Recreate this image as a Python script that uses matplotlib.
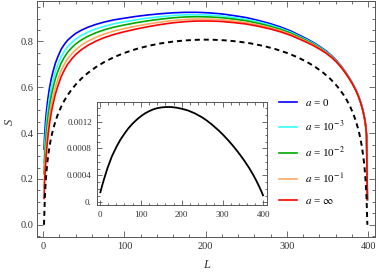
import matplotlib.pyplot as plt
from matplotlib.ticker import MultipleLocator, FuncFormatter

plt.rcParams['font.family'] = ['Liberation Serif', 'DejaVu Serif']
plt.rcParams['mathtext.fontset'] = 'stix'

# subsystem sizes used for the coloured curves
L_col = [1, 2, 3, 4, 5, 6, 8, 10, 12, 15, 18, 22, 26, 30, 35, 40, 47, 55, 65, 75,
         87, 100, 115, 130, 145, 160, 175, 190, 205, 220, 235, 250, 265, 280, 293,
         305, 315, 325, 333, 340, 348, 355, 361, 367, 372, 377, 381, 385, 388, 391,
         393, 395, 396, 397, 398, 399]

S_a0 = [0.33, 0.405, 0.455, 0.495, 0.527, 0.555, 0.602, 0.638, 0.667, 0.705, 0.733,
        0.765, 0.787, 0.805, 0.821, 0.835, 0.849, 0.862, 0.8745, 0.8845, 0.894,
        0.9015, 0.9095, 0.916, 0.921, 0.925, 0.927, 0.927, 0.9245, 0.92, 0.9125,
        0.904, 0.8915, 0.877, 0.862, 0.845, 0.828, 0.81, 0.7945, 0.779, 0.759,
        0.738, 0.717, 0.692, 0.667, 0.64, 0.6155, 0.588, 0.5625, 0.532, 0.5065,
        0.475, 0.456, 0.431, 0.3905, 0.11]
S_a3 = [0.272, 0.351, 0.404, 0.446, 0.481, 0.51, 0.56, 0.598, 0.629, 0.669, 0.698,
        0.733, 0.757, 0.777, 0.795, 0.81, 0.826, 0.8407, 0.8548, 0.8661, 0.8769,
        0.8856, 0.8947, 0.9022, 0.9083, 0.9133, 0.9161, 0.9167, 0.915, 0.911,
        0.904, 0.896, 0.885, 0.871, 0.856, 0.84, 0.823, 0.806, 0.791, 0.776, 0.756,
        0.736, 0.715, 0.69, 0.666, 0.639, 0.615, 0.587, 0.562, 0.5315, 0.506,
        0.475, 0.456, 0.431, 0.39, 0.11]
S_a2 = [0.2225, 0.305, 0.36, 0.405, 0.441, 0.4725, 0.5245, 0.564, 0.596, 0.6375,
        0.669, 0.705, 0.731, 0.7525, 0.772, 0.789, 0.8065, 0.8225, 0.838, 0.8505,
        0.8623, 0.872, 0.882, 0.8905, 0.8975, 0.9033, 0.9068, 0.908, 0.9068, 0.9035,
        0.8973, 0.89, 0.8788, 0.8655, 0.8515, 0.8355, 0.8195, 0.8025, 0.7878,
        0.773, 0.754, 0.734, 0.7135, 0.689, 0.6645, 0.638, 0.6138, 0.5865, 0.5613,
        0.531, 0.5058, 0.4745, 0.4555, 0.4305, 0.3903, 0.11]
S_a1 = [0.1645, 0.251, 0.3087, 0.3564, 0.3946, 0.428, 0.4827, 0.524, 0.5577, 0.601,
        0.6344, 0.6726, 0.7008, 0.7242, 0.7455, 0.7642, 0.7836, 0.8012, 0.8183,
        0.8321, 0.8451, 0.8561, 0.8672, 0.8767, 0.8848, 0.8915, 0.8958, 0.8977,
        0.8972, 0.8946, 0.889, 0.8824, 0.8719, 0.8593, 0.8458, 0.8304, 0.8149,
        0.7985, 0.7841, 0.7698, 0.7513, 0.7318, 0.7116, 0.6874, 0.6632, 0.6369,
        0.6128, 0.5857, 0.5606, 0.5305, 0.5053, 0.4742, 0.4552, 0.4302, 0.3901, 0.11]
S_inf = [0.115, 0.205, 0.265, 0.315, 0.355, 0.39, 0.447, 0.49, 0.525, 0.57, 0.605,
         0.645, 0.675, 0.70, 0.723, 0.743, 0.764, 0.783, 0.8015, 0.8165, 0.8305,
         0.8425, 0.8545, 0.865, 0.874, 0.8815, 0.8865, 0.889, 0.889, 0.887, 0.882,
         0.876, 0.866, 0.854, 0.841, 0.826, 0.811, 0.795, 0.781, 0.767, 0.749, 0.73,
         0.71, 0.686, 0.662, 0.636, 0.612, 0.585, 0.56, 0.53, 0.505, 0.474, 0.455,
         0.43, 0.39, 0.11]

# dashed reference curve
L_dash = [1, 2, 3, 4, 5, 6, 8, 10, 12, 15, 18, 22, 26, 30, 35, 40, 47, 55, 65, 75,
          87, 100, 115, 130, 145, 160, 175, 190, 200, 210, 225, 240, 255, 270, 285,
          300, 313, 325, 335, 345, 353, 360, 365, 370, 374, 378, 382, 385, 388, 390,
          392, 394, 395, 396, 397, 398, 399]
S_dash = [0.0, 0.1155, 0.183, 0.231, 0.268, 0.2986, 0.3464, 0.3836, 0.4139, 0.4509,
          0.4812, 0.5143, 0.5418, 0.5653, 0.5904, 0.612, 0.6379, 0.6626, 0.6884,
          0.7098, 0.7312, 0.75, 0.7675, 0.7812, 0.7917, 0.7994, 0.8045, 0.8072,
          0.8078, 0.8072, 0.8045, 0.7994, 0.7917, 0.7812, 0.7675, 0.75, 0.7312,
          0.7098, 0.6884, 0.6626, 0.6379, 0.612, 0.5904, 0.5653, 0.5418, 0.5143,
          0.4812, 0.4509, 0.4139, 0.3836, 0.3464, 0.2986, 0.268, 0.231, 0.183,
          0.1155, 0.0]

# inset curve
L_ins = [1, 5, 10, 18, 29, 40, 50, 60, 69, 80, 90, 100, 110, 120, 130, 140, 151,
         163, 175, 188, 200, 215, 232, 250, 262, 273, 290, 302, 314, 325, 335, 345,
         355, 365, 375, 383, 390, 395, 399]
S_ins = [1.5e-4, 2.4e-4, 3.45e-4, 5.0e-4, 6.8e-4, 8.2e-4, 9.3e-4, 10.2e-4, 10.95e-4,
         11.7e-4, 12.28e-4, 12.78e-4, 13.2e-4, 13.53e-4, 13.8e-4, 13.98e-4, 14.1e-4,
         14.16e-4, 14.15e-4, 14.05e-4, 13.9e-4, 13.65e-4, 13.22e-4, 12.62e-4,
         12.12e-4, 11.6e-4, 10.7e-4, 9.98e-4, 9.2e-4, 8.43e-4, 7.68e-4, 6.88e-4,
         6.03e-4, 5.1e-4, 4.08e-4, 3.16e-4, 2.29e-4, 1.62e-4, 1.04e-4]

curves = [S_a0, S_a3, S_a2, S_a1, S_inf]
colors = ['#0000ff', '#33ffff', '#00aa00', '#ffa860', '#ff0000']
labels = [r'$a$ = 0', r'$a$ = 10$^{-3}$', r'$a$ = 10$^{-2}$', r'$a$ = 10$^{-1}$',
          r'$a$ = $\infty$']

frame_col = '#555555'

fig = plt.figure(figsize=(3.79, 2.74), dpi=100)
ax = fig.add_axes([0.0968, 0.136, 0.8918, 0.860])

for S, c, lab in zip(curves, colors, labels):
    ax.plot(L_col, S, color=c, lw=1.2, label=lab)
ax.plot(L_dash, S_dash, color='black', lw=1.4, dashes=(2.6, 2.0))

ax.set_xlim(-8, 408)
ax.set_ylim(-0.052, 0.976)
ax.xaxis.set_major_locator(MultipleLocator(100))
ax.xaxis.set_minor_locator(MultipleLocator(20))
ax.yaxis.set_major_locator(MultipleLocator(0.2))
ax.yaxis.set_minor_locator(MultipleLocator(0.05))
ax.yaxis.set_major_formatter(FuncFormatter(lambda v, p: '%.1f' % v))
ax.tick_params(which='both', direction='in', top=True, right=True, color=frame_col,
               width=0.6, labelsize=7.5, labelcolor='#333333')
ax.tick_params(which='major', length=4)
ax.tick_params(which='minor', length=2)
ax.tick_params(axis='x', pad=3.5)
ax.tick_params(axis='y', pad=2)
for sp in ax.spines.values():
    sp.set_color(frame_col)
    sp.set_linewidth(0.7)

fig.text(10 / 379, 1 - 122 / 274, 'S', style='italic', fontsize=9, rotation=90,
         ha='center', va='center', color='#333333')
fig.text(207 / 379, 1 - 265 / 274, 'L', style='italic', fontsize=9,
         ha='center', va='center', color='#333333')

ax.legend(loc='upper left', bbox_to_anchor=(279 / 379, 1 - 97 / 274),
          bbox_transform=fig.transFigure, frameon=False, fontsize=8,
          handlelength=1.6, handletextpad=0.7, labelspacing=1.0,
          borderpad=0, borderaxespad=0)

ins = fig.add_axes([0.2551, 0.2518, 0.4486, 0.3759])
ins.plot(L_ins, S_ins, color='black', lw=1.3)
ins.set_xlim(-8, 408)
ins.set_ylim(-0.00004, 0.00149)
ins.xaxis.set_major_locator(MultipleLocator(100))
ins.xaxis.set_minor_locator(MultipleLocator(20))
ins.yaxis.set_major_locator(MultipleLocator(0.0004))
ins.yaxis.set_minor_locator(MultipleLocator(0.0001))
ins.yaxis.set_major_formatter(FuncFormatter(lambda v, p: '0.' if abs(v) < 1e-9 else ('%.4f' % v)))
ins.tick_params(which='both', direction='in', top=True, right=True, color=frame_col,
                width=0.6, labelsize=6.5, labelcolor='#333333')
ins.tick_params(which='major', length=3.5)
ins.tick_params(which='minor', length=1.8)
ins.tick_params(axis='x', pad=4)
ins.tick_params(axis='y', pad=3.5)
for sp in ins.spines.values():
    sp.set_color(frame_col)
    sp.set_linewidth(0.7)

fig.savefig('out.png', dpi=100)
